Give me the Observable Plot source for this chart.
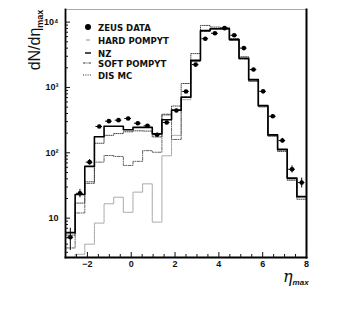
<!DOCTYPE html>
<html><head><meta charset="utf-8">
<script src="https://cdn.jsdelivr.net/npm/d3@7"></script>
<script src="https://cdn.jsdelivr.net/npm/@observablehq/plot@0.6"></script>
<style>
html,body{margin:0;padding:0;background:#fff;}
#wrap{position:relative;width:359px;height:314px;overflow:hidden;background:#fff;}
#wrap svg{display:block;}
.ylab{position:absolute;left:35px;top:40px;transform:translate(-50%,-50%) rotate(-90deg);white-space:nowrap;font:16px "Liberation Sans",Arial,sans-serif;color:#111;}
.ylab sub{font-size:9px;font-weight:bold;vertical-align:-3px;}
.xlab{position:absolute;left:283px;top:267px;white-space:nowrap;font:italic 16px "DejaVu Serif",serif;color:#111;}
.xlab sub{font:italic bold 8px "Liberation Sans",Arial,sans-serif;vertical-align:-3px;}
.leg{position:absolute;left:80px;top:20px;font:bold 9.5px "Liberation Sans Narrow","DejaVu Sans Condensed",Arial,sans-serif;color:#111;}
.leg .row{position:absolute;left:0;height:12px;white-space:nowrap;}
.leg svg{position:absolute;left:0;top:0;}
.leg span{position:absolute;left:18px;top:1px;}
</style></head><body><div id="wrap"></div>
<script>
// bin edges of the eta_max histogram
const binEdges = [-3, -2.56, -2.12, -1.68, -1.24, -0.8, -0.36, 0.08, 0.52, 0.96, 1.4, 1.84, 2.28, 2.72, 3.16, 3.6, 4.04, 4.48, 4.92, 5.36, 5.8, 6.24, 6.68, 7.12, 7.56, 8];
// ZEUS data (per bin) and errors
const zeusData = [5.1, 24, 72, 253, 305, 316, 335, 284, 259, 189, 291, 445, 869, 2240, 5570, 6750, 8090, 6300, 4000, 1880, 872, 363, 154, 56, 35];
const zeusErr  = [1.9, 3.5, 7, 12, 14, 14, 14, 13, 12, 10, 14, 18, 25, 50, 80, 90, 95, 80, 60, 40, 28, 18, 12, 7, 6];
// Monte Carlo predictions (per bin)
const nzMC   = [6, 23, 62, 176, 255, 255, 225, 245, 245, 195, 320, 450, 710, 2600, 7400, 7900, 7900, 5400, 2800, 1320, 530, 188, 113, 41, 21.5];
const disMC  = [5.5, 17, 36, 140, 185, 197, 210, 217, 215, 175, 380, 520, 1150, 3300, 8900, 8400, 8300, 5600, 2950, 1250, 505, 180, 105, 38, 19.5];
const softMC = [3.5, 12, 34, 72, 91, 88, 64, 74, 108, 102, 390, 160, 720, 2500, 7200, 7800, 7800, 5300, 2700, 1250, 510, 182, 110, 40, 21];
const hardMC = [1.5, 2.8, 4.0, 8.4, 16.6, 20.9, 12.3, 25, 33.5, 8.7, 90, 185, 650, 2550, 7300, 7850, 7850, 5350, 2750, 1280, 515, 184, 112, 40, 21];
// axis ticks
const xMajorTicks = [-2, 0, 2, 4, 6, 8];
const xMinorTicks = [-2.5, -1.5, -1, -0.5, 0.5, 1, 1.5, 2.5, 3, 3.5, 4.5, 5, 5.5, 6.5, 7, 7.5];
const yMajorTicks = [10, 100, 1000, 10000];
const yTickLabels = ["10", "10²", "10³", "10⁴"];
const yMinorTicks = [3,4,5,6,7,8,9,20,30,40,50,60,70,80,90,200,300,400,500,600,700,800,900,2000,3000,4000,5000,6000,7000,8000,9000];
const xDomain = [-3, 8];
const yDomain = [2.5, 15600];

const bins = zeusData.map((v, i) => ({lo: binEdges[i], hi: binEdges[i + 1], mid: (binEdges[i] + binEdges[i + 1]) / 2, v, e: zeusErr[i]}));
function steps(vals) {
  const out = [];
  vals.forEach((v, i) => { out.push({x: binEdges[i], y: v}); out.push({x: binEdges[i + 1], y: v}); });
  return out;
}
const tickFont = {fontSize: 9, fontWeight: "bold", fontFamily: "Liberation Sans, Arial, sans-serif"};

const chart = Plot.plot({
  width: 359, height: 314,
  marginLeft: 65, marginRight: 53, marginTop: 9, marginBottom: 57,
  style: {background: "#fff", color: "#111"},
  x: {domain: xDomain, label: null},
  y: {type: "log", domain: yDomain, label: null},
  marks: [
    Plot.line(steps(hardMC), {x: "x", y: "y", stroke: "#a8a8a8", strokeWidth: 1, strokeDasharray: "2,0.8", clip: true}),
    Plot.line(steps(softMC), {x: "x", y: "y", stroke: "#555", strokeWidth: 0.9, strokeDasharray: "3,1.3,1,1.3", clip: true}),
    Plot.line(steps(disMC), {x: "x", y: "y", stroke: "#333", strokeWidth: 0.9, strokeDasharray: "1,1.2", clip: true}),
    Plot.line(steps(nzMC), {x: "x", y: "y", stroke: "#000", strokeWidth: 1.6, clip: true}),
    Plot.ruleX(bins, {x: "mid", y1: d => d.v - d.e, y2: d => d.v + d.e, stroke: "#000", strokeWidth: 1, clip: true}),
    Plot.ruleY(bins, {y: "v", x1: "lo", x2: "hi", insetLeft: 1.5, insetRight: 1.5, stroke: "#000", strokeWidth: 1}),
    Plot.dot(bins, {x: "mid", y: "v", r: 2.3, fill: "#000", stroke: "none"}),
    Plot.frame({stroke: "#888", strokeWidth: 0.7}),
    Plot.frame({anchor: "right", stroke: "#000", strokeWidth: 2}),
    Plot.frame({anchor: "left", stroke: "#000", strokeWidth: 1.8}),
    Plot.frame({anchor: "bottom", stroke: "#000", strokeWidth: 1.8}),
    Plot.axisX({ticks: xMajorTicks, tickSize: 0, tickPadding: 3, label: null, ...tickFont}),
    Plot.axisX({ticks: xMajorTicks, tickSize: 5, insetBottom: 5, tickFormat: () => "", label: null}),
    Plot.axisX({ticks: xMinorTicks, tickSize: 3, insetBottom: 3, tickFormat: () => "", label: null}),
    Plot.axisY({ticks: yMajorTicks, tickSize: 0, tickPadding: 7, tickFormat: d => yTickLabels[yMajorTicks.indexOf(d)], label: null, ...tickFont}),
    Plot.axisY({ticks: yMajorTicks, tickSize: 5, insetLeft: 5, tickFormat: () => "", label: null}),
    Plot.axisY({ticks: yMinorTicks, tickSize: 3, insetLeft: 3, tickFormat: () => "", label: null})
  ]
});
const wrap = document.getElementById("wrap");
wrap.appendChild(chart);

const ylab = document.createElement("div");
ylab.className = "ylab";
ylab.innerHTML = "dN/dη<sub>max</sub>";
wrap.appendChild(ylab);

const xlab = document.createElement("div");
xlab.className = "xlab";
xlab.innerHTML = "η<sub>max</sub>";
wrap.appendChild(xlab);

const legendItems = [
  {name: "ZEUS DATA", sym: '<circle cx="8" cy="6" r="3" fill="#000"/>'},
  {name: "HARD POMPYT", sym: '<line x1="6" x2="10" y1="6" y2="6" stroke="#999" stroke-width="1"/>'},
  {name: "NZ", sym: '<line x1="5" x2="11" y1="6" y2="6" stroke="#000" stroke-width="1.4"/>'},
  {name: "SOFT POMPYT", sym: '<line x1="3" x2="11" y1="6" y2="6" stroke="#333" stroke-width="1" stroke-dasharray="2.5,1,1,1"/>'},
  {name: "DIS MC", sym: '<line x1="3" x2="11" y1="6" y2="6" stroke="#222" stroke-width="1" stroke-dasharray="1,1.3"/>'}
];
const legendTops = [1, 14, 26.5, 36.5, 49];
const leg = document.createElement("div");
leg.className = "leg";
legendItems.forEach((it, i) => {
  const r = document.createElement("div");
  r.className = "row";
  r.style.top = legendTops[i] + "px";
  r.innerHTML = '<svg width="14" height="12">' + it.sym + '</svg><span>' + it.name + '</span>';
  leg.appendChild(r);
});
wrap.appendChild(leg);
</script>
</body></html>
